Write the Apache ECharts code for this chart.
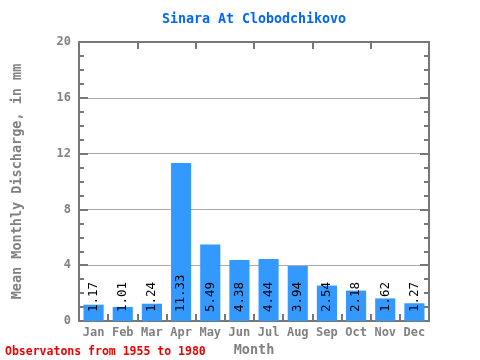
<!DOCTYPE html>
<html><head><meta charset="utf-8">
<script src="https://cdn.jsdelivr.net/npm/echarts@6/dist/echarts.min.js"></script>
<style>html,body{margin:0;padding:0;background:#fff}#c{width:480px;height:360px}</style>
</head><body><div id="c"></div>
<script>
const months = ['Jan','Feb','Mar','Apr','May','Jun','Jul','Aug','Sep','Oct','Nov','Dec'];
const discharge = [1.17,1.01,1.24,11.33,5.49,4.38,4.44,3.94,2.54,2.18,1.62,1.27];
const yTicks = [0,4,8,12,16,20];
const FONT = '"DejaVu Sans Mono", "Liberation Mono", monospace';
const AX = '#777777';
const chart = echarts.init(document.getElementById('c'), null, {renderer:'canvas'});
const yBase = {
  type:'value', min:0, max:20, interval:4,
  axisLine:{show:true, onZero:false, lineStyle:{color:AX, width:2}},
  axisTick:{show:true, inside:true, length:9, lineStyle:{color:AX, width:2}},
  minorTick:{show:true, splitNumber:4, length:5, lineStyle:{color:AX, width:2}},
  splitLine:{show:false}
};
chart.setOption({
  animation:false,
  title:{text:'Sinara At Clobodchikovo', left:157, top:8,
    textStyle:{color:'#0066ff', fontFamily:FONT, fontSize:13.3, fontWeight:'bold'}},
  graphic:[{type:'text', left:5, top:346, style:{text:'Observatons from 1955 to 1980',
    fill:'#ee0000', font:'bold 11.5px '+FONT}}],
  grid:{left:79, right:51, top:42, bottom:39, outerBoundsMode:'none', containLabel:false},
  xAxis:[{
    type:'category', data:months, position:'bottom',
    axisLine:{onZero:false, lineStyle:{color:AX, width:2}},
    axisTick:{show:true, inside:true, length:7, lineStyle:{color:AX, width:2}},
    axisLabel:{color:'#808080', fontFamily:FONT, fontSize:12, fontWeight:'bold', margin:6, interval:0},
    name:'Month', nameLocation:'middle', nameGap:21,
    nameTextStyle:{color:'#808080', fontFamily:FONT, fontSize:13.5, fontWeight:'bold'}
  },{
    type:'category', data:months, position:'top',
    axisLine:{onZero:false, lineStyle:{color:AX, width:2}},
    axisTick:{show:true, inside:true, length:7, lineStyle:{color:AX, width:2}},
    axisLabel:{show:false}
  }],
  yAxis:[Object.assign({}, yBase, {
    position:'left',
    splitLine:{show:true, lineStyle:{color:'#aaaaaa', width:1}},
    axisLabel:{color:'#808080', fontFamily:FONT, fontSize:12, fontWeight:'bold', margin:8,
      formatter:v=>yTicks.includes(v)?String(v):''},
    name:'Mean Monthly Discharge, in mm', nameLocation:'middle', nameGap:55,
    nameTextStyle:{color:'#808080', fontFamily:FONT, fontSize:13.5, fontWeight:'bold'}
  }), Object.assign({}, yBase, {position:'right', axisLabel:{show:false}})],
  series:[{
    type:'bar', data:discharge, xAxisIndex:0, yAxisIndex:0, barWidth:'69%',
    itemStyle:{color:'#3399ff'},
    label:{show:true, position:'insideBottom', rotate:90, align:'left', verticalAlign:'middle',
      distance:9, color:'#000', fontFamily:FONT, fontSize:12.5,
      formatter:p=>p.value.toFixed(2)}
  }]
});
</script></body></html>
